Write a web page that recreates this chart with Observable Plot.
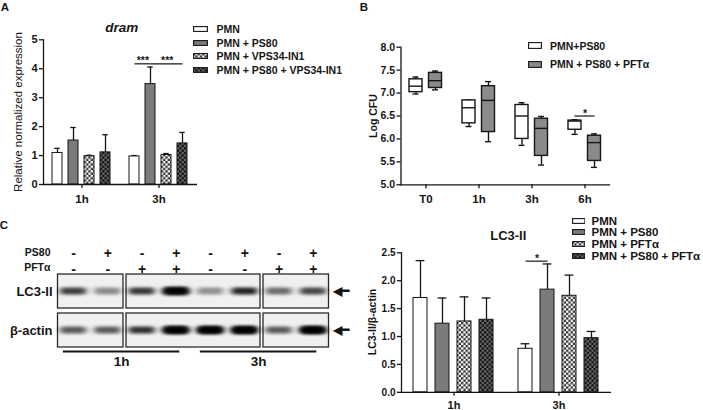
<!DOCTYPE html>
<html>
<head>
<meta charset="utf-8">
<script src="https://cdn.jsdelivr.net/npm/d3@7"></script>
<script src="https://cdn.jsdelivr.net/npm/@observablehq/plot@0.6"></script>
<style>
  html, body { margin: 0; padding: 0; background: #fff; }
  #fig { position: relative; width: 703px; height: 410px; overflow: hidden; background: #fff;
         font-family: "Liberation Sans", Arial, Helvetica, sans-serif; color: #151515; }
  #fig > svg { position: absolute; left: 0; top: 0; }
  .lbl { position: absolute; white-space: nowrap; line-height: 1; }
  .legend { position: absolute; font-weight: bold; white-space: nowrap; }
  .legend .row { display: flex; align-items: center; }
  .legend svg { display: block; flex: none; }
</style>
</head>
<body>
<div id="fig">
  <svg width="0" height="0" style="position:absolute">
    <defs>
      <pattern id="chkL" width="4.6" height="4.6" patternUnits="userSpaceOnUse">
        <rect width="4.6" height="4.6" fill="#ffffff"/>
        <rect width="2.3" height="2.3" fill="#2e2e2e"/>
        <rect x="2.3" y="2.3" width="2.3" height="2.3" fill="#2e2e2e"/>
      </pattern>
      <pattern id="chkD" width="4.6" height="4.6" patternUnits="userSpaceOnUse">
        <rect width="4.6" height="4.6" fill="#6c6c6c"/>
        <rect width="2.3" height="2.3" fill="#0e0e0e"/>
        <rect x="2.3" y="2.3" width="2.3" height="2.3" fill="#0e0e0e"/>
      </pattern>
    </defs>
  </svg>
</div>
<script>
// ================= DATA =================
// Panel A – dram relative expression
const timesA = ["1h", "3h"];
const seriesA = ["PMN", "PMN + PS80", "PMN + VPS34-IN1", "PMN + PS80 + VPS34-IN1"];
const meanA1h = [1.09, 1.52, 0.98, 1.11];
const errTopA1h = [1.25, 1.97, 1.01, 1.72];
const meanA3h = [0.97, 3.47, 1.02, 1.42];
const errTopA3h = [1.00, 4.06, 1.07, 1.80];
const yTicksA = [0, 1, 2, 3, 4, 5];
const sigA = [
  {time: "3h", from: "PMN", to: "PMN + PS80", y: 4.17, label: "***"},
  {time: "3h", from: "PMN + PS80", to: "PMN + PS80 + VPS34-IN1", y: 4.17, label: "***"}
];

// Panel B – Log CFU box plots
const timesB = ["T0", "1h", "3h", "6h"];
const seriesB = ["PMN+PS80", "PMN + PS80 + PFTα"];
const minB1 = [6.98, 6.27, 5.86, 6.10];
const q1B1  = [7.02, 6.34, 6.00, 6.20];
const medB1 = [7.15, 6.68, 6.50, 6.39];
const q3B1  = [7.30, 6.84, 6.74, 6.40];
const maxB1 = [7.35, 6.85, 6.79, 6.42];
const minB2 = [7.07, 5.94, 5.43, 5.38];
const q1B2  = [7.11, 6.15, 5.63, 5.52];
const medB2 = [7.27, 6.84, 6.23, 5.92];
const q3B2  = [7.44, 7.15, 6.44, 6.07];
const maxB2 = [7.48, 7.25, 6.49, 6.11];
const yTicksB = [5.0, 5.5, 6.0, 6.5, 7.0, 7.5, 8.0];
const sigB = [{time: "6h", y: 6.5, label: "*"}];

// Panel C – western blot
const lanesC = [1, 2, 3, 4, 5, 6, 7, 8];
const ps80Signs = ["-", "+", "-", "+", "-", "+", "-", "+"];
const pftSigns  = ["-", "-", "+", "+", "-", "-", "+", "+"];
const rowsC = ["LC3-II", "β-actin"];
const lc3Band   = [0.74, 0.42, 0.76, 0.90, 0.40, 0.85, 0.55, 0.70];
const actinBand = [0.62, 0.62, 0.80, 0.97, 1.00, 1.00, 0.62, 1.00];
const blotPieces = [{first: 1, last: 2}, {first: 3, last: 6}, {first: 7, last: 8}];
const timeGroupsC = [{label: "1h", first: 1, last: 4}, {label: "3h", first: 5, last: 8}];

// Panel D – LC3-II / β-actin
const timesD = ["1h", "3h"];
const seriesD = ["PMN", "PMN + PS80", "PMN + PFTα", "PMN + PS80 + PFTα"];
const meanD1h = [1.69, 1.23, 1.27, 1.30];
const errTopD1h = [2.36, 1.69, 1.71, 1.69];
const meanD3h = [0.78, 1.84, 1.73, 0.97];
const errTopD3h = [0.87, 2.30, 2.10, 1.09];
const yTicksD = [0, 0.5, 1.0, 1.5, 2.0, 2.5];
const sigD = [{time: "3h", from: "PMN", to: "PMN + PS80", y: 2.35, label: "*"}];

// fills (shared styling)
const fills4 = ["#ffffff", "#7b7b7b", "url(#chkL)", "url(#chkD)"];
const fillsB = ["#ffffff", "#8a8a8a"];

// ================= HELPERS =================
const W = 703, H = 410;
const FONT = '"Liberation Sans", Arial, Helvetica, sans-serif';
const INK = "#151515";
const fig = document.getElementById("fig");

function tidyGroups(times, series, means, tops) {
  const out = [];
  times.forEach((t, ti) => series.forEach((s, si) =>
    out.push({time: t, series: s, value: means[ti][si], top: tops[ti][si]})));
  return out;
}
function bandStep(width, n, pi, po) { return width / (n - pi + 2 * po); }

function addText(txt, x, y, {size = 11, weight = "bold", style = "normal", rotate = 0, anchor = "middle"} = {}) {
  const d = document.createElement("div");
  d.className = "lbl";
  d.textContent = txt;
  d.style.left = x + "px"; d.style.top = y + "px";
  d.style.fontSize = size + "px"; d.style.fontWeight = weight; d.style.fontStyle = style;
  const tx = anchor === "middle" ? "-50%" : anchor === "end" ? "-100%" : "0";
  d.style.transform = `translate(${tx},-50%)` + (rotate ? ` rotate(${rotate}deg)` : "");
  fig.appendChild(d);
}
function addLegend(names, fills, {left, top, rowH, swW, swH, gap, size}) {
  const box = document.createElement("div");
  box.className = "legend";
  box.style.left = left + "px"; box.style.top = top + "px"; box.style.fontSize = size + "px";
  names.forEach((n, i) => {
    const r = document.createElement("div");
    r.className = "row"; r.style.height = rowH + "px";
    r.innerHTML = `<svg width="${swW}" height="${swH}" style="margin-right:${gap}px"><rect x="0.6" y="0.6" width="${swW - 1.2}" height="${swH - 1.2}" fill="${fills[i]}" stroke="${INK}" stroke-width="1.1"/></svg><span>${n}</span>`;
    box.appendChild(r);
  });
  fig.appendChild(box);
}
function mount(svg) { fig.appendChild(svg); return svg; }
const baseStyle = (size) => ({background: "transparent", fontFamily: FONT, fontSize: size + "px", fontWeight: "bold", color: INK, overflow: "visible"});

// ================= PANEL A =================
const dataA = tidyGroups(timesA, seriesA, [meanA1h, meanA3h], [errTopA1h, errTopA3h]);
const A = {left: 42, right: 197, top: 39.3, bottom: 184};
const piA = 0.37, poA = 0.5;
const stepA = bandStep((A.right - A.left) / timesA.length, seriesA.length, piA, poA);
mount(Plot.plot({
  width: W, height: H,
  marginLeft: A.left, marginRight: W - A.right, marginTop: A.top, marginBottom: H - A.bottom,
  style: baseStyle(11),
  fx: {domain: timesA, padding: 0},
  x: {domain: seriesA, paddingInner: piA, paddingOuter: poA, align: 0.5, axis: null},
  y: {domain: [0, 5]},
  color: {domain: seriesA, range: fills4},
  marks: [
    Plot.ruleX(dataA, {fx: "time", x: "series", y1: "value", y2: "top", stroke: INK, strokeWidth: 1.3}),
    Plot.tickY(dataA, {fx: "time", x: "series", y: "top", stroke: INK, strokeWidth: 1.3, insetLeft: 2.3, insetRight: 2.3}),
    Plot.barY(dataA, {fx: "time", x: "series", y: "value", fill: "series", stroke: INK, strokeWidth: 1}),
    Plot.ruleY([0], {stroke: INK, strokeWidth: 1.3}),
    Plot.frame({anchor: "left", facetAnchor: "left", stroke: INK, strokeWidth: 1.3}),
    Plot.axisY({ticks: yTicksA, tickFormat: d3.format("d"), tickSize: 4, tickPadding: 2, label: null, fontSize: 11, strokeWidth: 1.3}),
    Plot.axisFx({anchor: "bottom", tickSize: 4, tickPadding: 6, label: null, fontSize: 11.5, strokeWidth: 1.3}),
    Plot.link(sigA, {fx: "time", x1: "from", x2: "to", y1: "y", y2: "y", stroke: INK, strokeWidth: 1.2}),
    ...sigA.map(s => Plot.text([s], {fx: "time", x: "from", y: "y", text: "label", fontSize: 10.5,
      dx: stepA * (seriesA.indexOf(s.to) - seriesA.indexOf(s.from)) / 2, dy: 0.5, lineAnchor: "bottom"}))
  ]
}));

// ================= PANEL B =================
const mkB = (mins, q1s, meds, q3s, maxs) => timesB.map((t, i) => ({time: t, min: mins[i], q1: q1s[i], med: meds[i], q3: q3s[i], max: maxs[i]}));
const boxesB = [mkB(minB1, q1B1, medB1, q3B1, maxB1), mkB(minB2, q1B2, medB2, q3B2, maxB2)];
const offsetsB = [-10, 9.5];
const B = {left: 400.5, right: 609, top: 46.7, bottom: 184.3};
const boxMarks = boxesB.flatMap((d, k) => {
  const dx = offsetsB[k];
  return [
    Plot.ruleX(d, {x: "time", y1: "min", y2: "max", dx, stroke: INK, strokeWidth: 1.4}),
    Plot.tickY(d, {x: "time", y: "min", dx, insetLeft: 3.5, insetRight: 3.5, stroke: INK, strokeWidth: 1.4}),
    Plot.tickY(d, {x: "time", y: "max", dx, insetLeft: 3.5, insetRight: 3.5, stroke: INK, strokeWidth: 1.4}),
    Plot.barY(d, {x: "time", y1: "q1", y2: "q3", dx, fill: fillsB[k], stroke: INK, strokeWidth: 1.4}),
    Plot.tickY(d, {x: "time", y: "med", dx, stroke: INK, strokeWidth: 1.4})
  ];
});
mount(Plot.plot({
  width: W, height: H,
  marginLeft: B.left, marginRight: W - B.right, marginTop: B.top, marginBottom: H - B.bottom,
  style: baseStyle(10.5),
  x: {domain: timesB, paddingInner: 0.756, paddingOuter: 0.338},
  y: {domain: [5, 8]},
  marks: [
    ...boxMarks,
    Plot.frame({anchor: "left", stroke: INK, strokeWidth: 1.3}),
    Plot.frame({anchor: "bottom", stroke: INK, strokeWidth: 1.3}),
    Plot.axisY({ticks: yTicksB, tickFormat: d3.format(".1f"), tickSize: 4, tickPadding: 2, label: null, fontSize: 10.5, strokeWidth: 1.3}),
    Plot.axisX({tickSize: 4, tickPadding: 6, label: null, fontSize: 11.5, strokeWidth: 1.3}),
    Plot.tickY(sigB, {x: "time", y: "y", insetLeft: -3.5, insetRight: -3.5, stroke: INK, strokeWidth: 1.2}),
    Plot.text(sigB, {x: "time", y: "y", text: "label", fontSize: 10.5, dy: 0.5, lineAnchor: "bottom"})
  ]
}));

// ================= PANEL C (blot) =================
const C = {left: 56, right: 330, top: 274.3, bottom: 347.7};
const piecesC = rowsC.flatMap(r => blotPieces.map(p => ({...p, row: r})));
const bandsC = lanesC.flatMap((lane, i) => [
  {lane, row: "LC3-II", v: lc3Band[i]},
  {lane, row: "β-actin", v: actinBand[i]}
]);
const lanesTable = lanesC.map((lane, i) => ({lane, ps80: ps80Signs[i], pft: pftSigns[i]}));
const svgC = mount(Plot.plot({
  width: W, height: H,
  marginLeft: C.left, marginRight: W - C.right, marginTop: C.top, marginBottom: H - C.bottom,
  style: baseStyle(13),
  x: {domain: [0.5, 8.5], axis: null},
  y: {domain: rowsC, paddingInner: 0.12, paddingOuter: 0},
  opacity: {type: "identity"},
  marks: [
    Plot.barX(piecesC, {x1: d => d.first - 0.5, x2: d => d.last + 0.5, y: "row", insetLeft: 1.5, insetRight: 1.5,
      fill: "#f0f0f0", stroke: "#2a2a2a", strokeWidth: 1.3}),
    Plot.barX(bandsC, {x1: d => d.lane - 0.38, x2: d => d.lane + 0.38, y: "row", insetTop: 13.5, insetBottom: 13.5,
      rx: 3, fill: "black", fillOpacity: "v"}),
    Plot.barX(bandsC.filter(d => d.v > 0.85), {x1: d => d.lane - 0.34, x2: d => d.lane + 0.34, y: "row", insetTop: 13, insetBottom: 13,
      rx: 3, fill: "black", fillOpacity: 0.9}),
    Plot.axisY({tickSize: 0, tickPadding: 4, label: null, fontSize: 13}),
    Plot.text(lanesTable, {x: "lane", text: "ps80", frameAnchor: "top", dy: -26.6, fontSize: 14}),
    Plot.text(lanesTable, {x: "lane", text: "pft", frameAnchor: "top", dy: -11, fontSize: 14}),
    Plot.text(["PS80"], {text: d => d, frameAnchor: "top-left", dx: -6, dy: -26.6, textAnchor: "end", fontSize: 10.5}),
    Plot.text(["PFTα"], {text: d => d, frameAnchor: "top-left", dx: -6, dy: -11, textAnchor: "end", fontSize: 10.5}),
    Plot.text(rowsC, {y: d => d, text: () => "◀━", frameAnchor: "right", dx: 2, textAnchor: "start", fontSize: 12}),
    Plot.ruleY(timeGroupsC, {y: () => "β-actin", x1: d => d.first - 0.3, x2: d => d.last + 0.1, dy: 21, stroke: INK, strokeWidth: 1.8}),
    Plot.text(timeGroupsC, {x: d => (d.first + d.last - 0.2) / 2, text: "label", frameAnchor: "bottom", dy: 17.3, fontSize: 13.5})
  ]
}));
// soft (blurred) band edges: filter defined inside this SVG, applied to the black band groups
const defsC = d3.select(svgC).insert("defs", ":first-child");
defsC.append("filter").attr("id", "blurBand")
  .attr("filterUnits", "userSpaceOnUse").attr("x", 0).attr("y", 0).attr("width", W).attr("height", H)
  .append("feGaussianBlur").attr("stdDeviation", "3.2 1.7");
svgC.querySelectorAll("g").forEach(g => {
  if (g.getAttribute("fill") === "black" && g.querySelector("rect")) g.setAttribute("filter", "url(#blurBand)");
});

// ================= PANEL D =================
const dataD = tidyGroups(timesD, seriesD, [meanD1h, meanD3h], [errTopD1h, errTopD3h]);
const D = {left: 400, right: 611, top: 252.3, bottom: 391.8};
const piD = 0.36, poD = 0.48;
const stepD = bandStep((D.right - D.left) / timesD.length, seriesD.length, piD, poD);
mount(Plot.plot({
  width: W, height: H,
  marginLeft: D.left, marginRight: W - D.right, marginTop: D.top, marginBottom: H - D.bottom,
  style: baseStyle(10),
  fx: {domain: timesD, padding: 0},
  x: {domain: seriesD, paddingInner: piD, paddingOuter: poD, align: 0.5, axis: null},
  y: {domain: [0, 2.5]},
  color: {domain: seriesD, range: fills4},
  marks: [
    Plot.ruleX(dataD, {fx: "time", x: "series", y1: "value", y2: "top", stroke: INK, strokeWidth: 1.3}),
    Plot.tickY(dataD, {fx: "time", x: "series", y: "top", stroke: INK, strokeWidth: 1.3, insetLeft: 2.6, insetRight: 2.6}),
    Plot.barY(dataD, {fx: "time", x: "series", y: "value", fill: "series", stroke: INK, strokeWidth: 1}),
    Plot.ruleY([0], {stroke: INK, strokeWidth: 1.3}),
    Plot.frame({anchor: "left", facetAnchor: "left", stroke: INK, strokeWidth: 1.3}),
    Plot.axisY({ticks: yTicksD, tickFormat: d3.format(".1f"), tickSize: 4, tickPadding: 2, label: null, fontSize: 10, strokeWidth: 1.3}),
    Plot.axisFx({anchor: "bottom", tickSize: 4, tickPadding: 5, label: null, fontSize: 11, strokeWidth: 1.3}),
    Plot.link(sigD, {fx: "time", x1: "from", x2: "to", y1: "y", y2: "y", stroke: INK, strokeWidth: 1.2}),
    ...sigD.map(s => Plot.text([s], {fx: "time", x: "from", y: "y", text: "label", fontSize: 10.5,
      dx: stepD * (seriesD.indexOf(s.to) - seriesD.indexOf(s.from)) / 2, dy: 0.5, lineAnchor: "bottom"}))
  ]
}));

// ================= TEXT, LEGENDS =================
addText("A", 5, 8, {size: 11.5});
addText("B", 364, 8, {size: 11.5});
addText("C", 4, 226, {size: 11.5});
addText("dram", 121.7, 28, {size: 13.5, style: "italic"});
addText("Relative normalized expression", 19, 111.7, {size: 11.5, weight: "normal", rotate: -90});
addText("Log CFU", 373.3, 115.5, {size: 10.5, rotate: -90});
addText("LC3-II", 508.3, 235, {size: 13});
addText("LC3-II/β-actin", 371.5, 321.5, {size: 10.5, rotate: -90});

addLegend(seriesA, fills4, {left: 193, top: 22.5, rowH: 13.6, swW: 15, swH: 6, gap: 8.5, size: 10.5});
addLegend(seriesB, fillsB, {left: 527.5, top: 36.4, rowH: 18.6, swW: 14, swH: 7, gap: 8.5, size: 10.5});
addLegend(seriesD, fills4, {left: 571.5, top: 215, rowH: 11.6, swW: 13.5, swH: 6, gap: 6.5, size: 11.5});
</script>
</body>
</html>
